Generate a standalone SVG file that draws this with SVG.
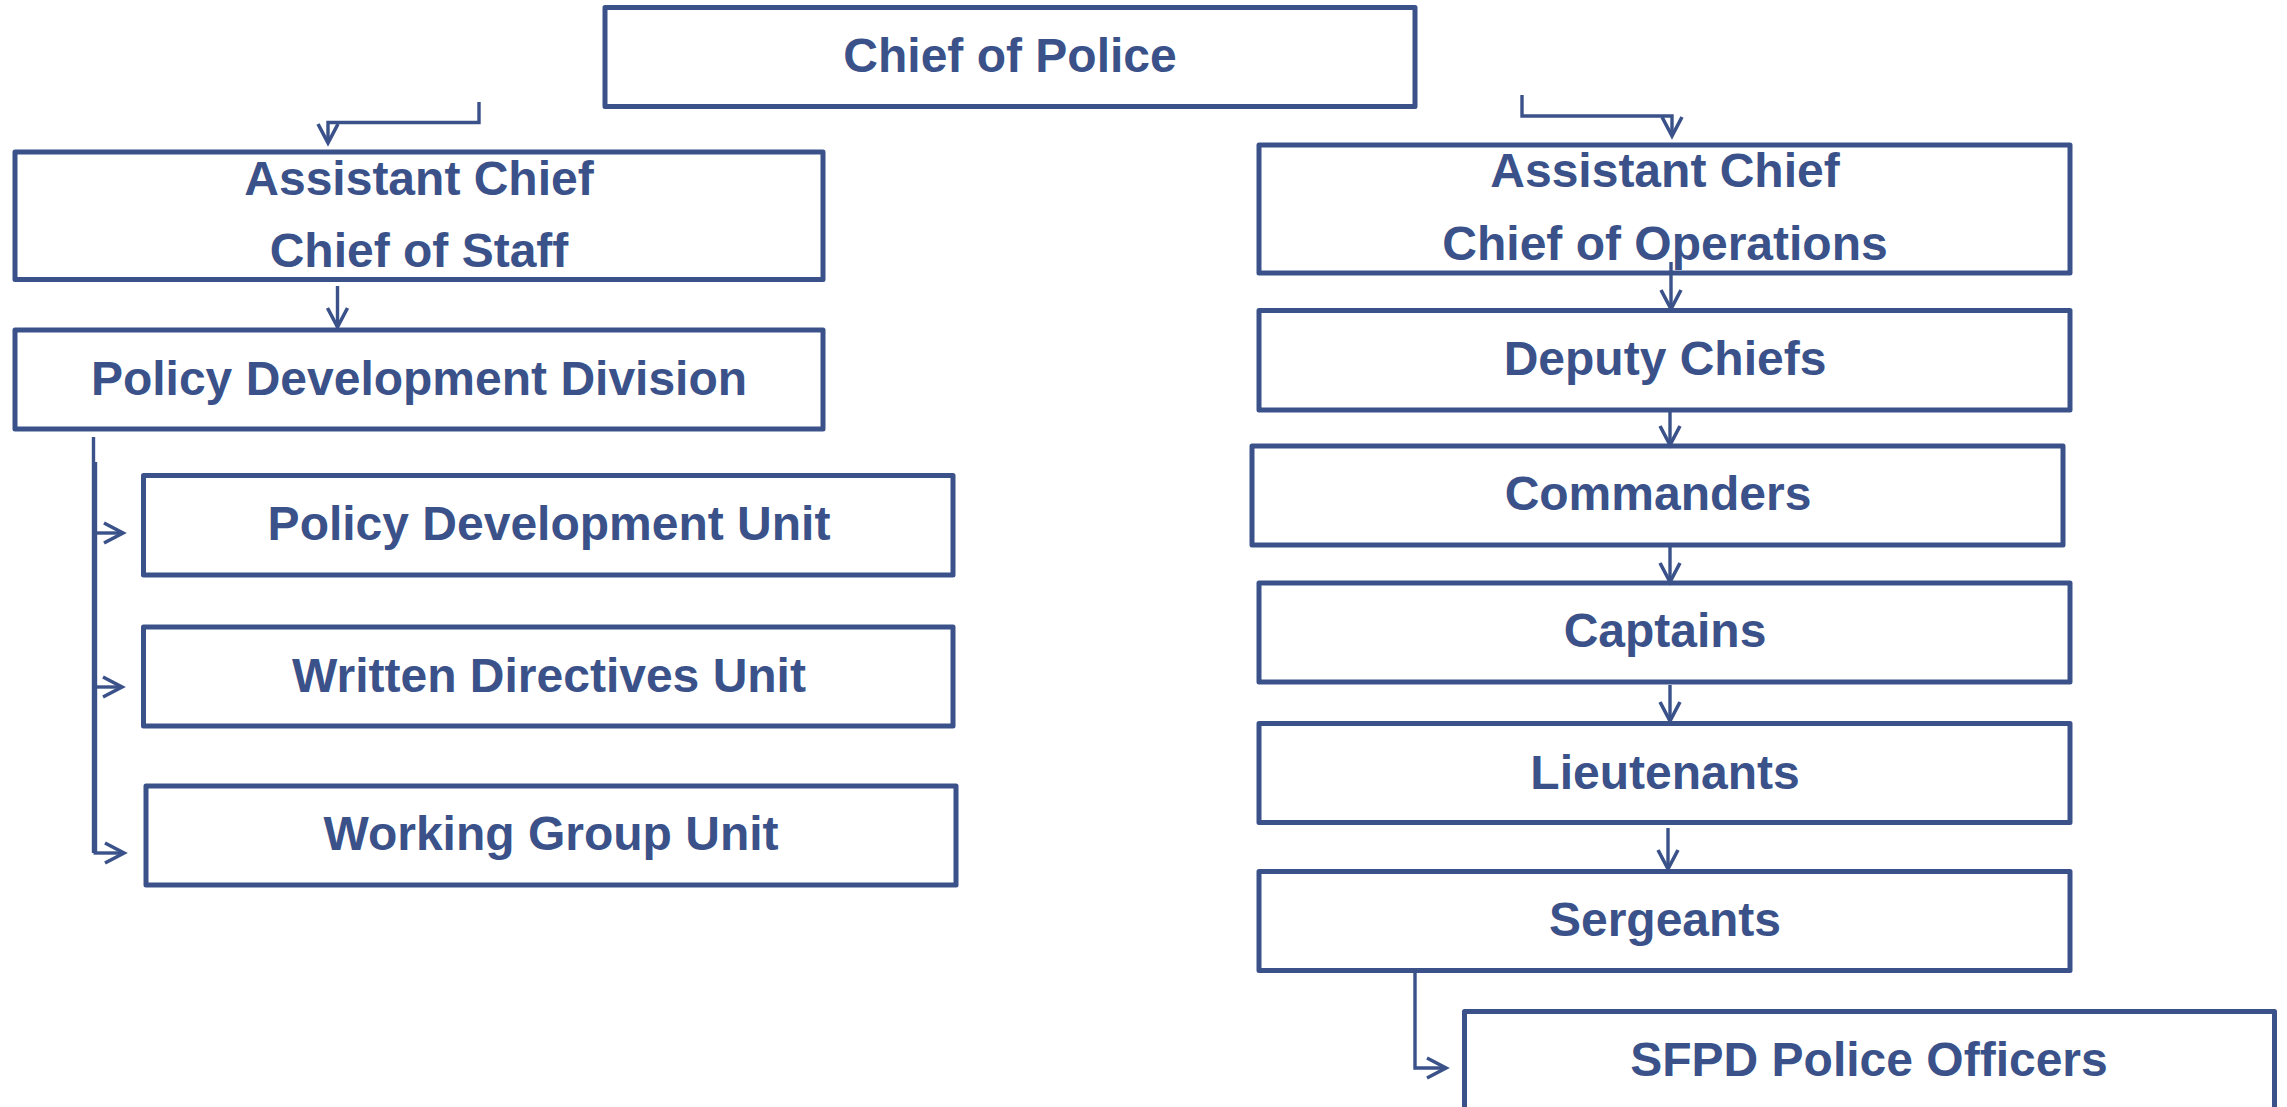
<svg xmlns="http://www.w3.org/2000/svg" width="2287" height="1107" viewBox="0 0 2287 1107">
<style>
.box{fill:#fff;stroke:#3A5289;stroke-width:5;stroke-linejoin:round}
.t{font-family:"Liberation Sans",Arial,sans-serif;font-weight:bold;font-size:48px;fill:#3A5289;text-anchor:middle}
.c{fill:none;stroke:#3A5289;stroke-width:3.4}
</style>
<defs>
<marker id="arr" markerUnits="userSpaceOnUse" markerWidth="30" markerHeight="30" refX="0" refY="0" orient="auto" overflow="visible">
<path d="M-19,-10 L0,0 L-19,10" fill="none" stroke="#3A5289" stroke-width="3.6" stroke-linejoin="miter"/>
</marker>
</defs>
<rect width="2287" height="1107" fill="#fff"/>
<g id="chief"><rect class="box" x="605" y="7.5" width="810" height="99"/><text class="t" x="1010" y="72">Chief of Police</text></g>
<g id="acos"><rect class="box" x="15" y="152" width="808" height="127.5"/><text class="t" x="419" y="195">Assistant Chief</text><text class="t" x="419" y="267">Chief of Staff</text></g>
<g id="pdd"><rect class="box" x="15" y="330" width="808" height="99"/><text class="t" x="419" y="395">Policy Development Division</text></g>
<g id="pdu"><rect class="box" x="143.5" y="475.5" width="809.5" height="99.5"/><text class="t" x="549" y="540">Policy Development Unit</text></g>
<g id="wdu"><rect class="box" x="143.5" y="627" width="809.5" height="99"/><text class="t" x="549" y="692">Written Directives Unit</text></g>
<g id="wgu"><rect class="box" x="146" y="786" width="810" height="99"/><text class="t" x="551" y="850">Working Group Unit</text></g>
<g id="acoo"><rect class="box" x="1259" y="145" width="811" height="128"/><text class="t" x="1665" y="187">Assistant Chief</text><text class="t" x="1665" y="260">Chief of Operations</text></g>
<g id="deputy"><rect class="box" x="1259" y="310.5" width="811" height="99.5"/><text class="t" x="1665" y="375">Deputy Chiefs</text></g>
<g id="commanders"><rect class="box" x="1252" y="446" width="811" height="99"/><text class="t" x="1658" y="510">Commanders</text></g>
<g id="captains"><rect class="box" x="1259" y="583" width="811" height="99"/><text class="t" x="1665" y="647">Captains</text></g>
<g id="lieutenants"><rect class="box" x="1259" y="723.5" width="811" height="99"/><text class="t" x="1665" y="789">Lieutenants</text></g>
<g id="sergeants"><rect class="box" x="1259" y="871.5" width="811" height="99"/><text class="t" x="1665" y="936">Sergeants</text></g>
<g id="sfpd"><rect class="box" x="1464.5" y="1011.5" width="810" height="130"/><text class="t" x="1869" y="1076">SFPD Police Officers</text></g>
<g id="connectors">
<path class="c" d="M479 102 V122.5 H328 V143" marker-end="url(#arr)"/>
<path class="c" d="M1522 95 V116 H1672 V136" marker-end="url(#arr)"/>
<path class="c" d="M337.5 286 V327" marker-end="url(#arr)"/>
<path class="c" d="M93.5 437 V853"/>
<path class="c" d="M95.5 462 V853"/>
<path class="c" d="M93.5 533 H123" marker-end="url(#arr)"/>
<path class="c" d="M93.5 687 H122" marker-end="url(#arr)"/>
<path class="c" d="M93.5 853 H124" marker-end="url(#arr)"/>
<path class="c" d="M1671 262 V309" marker-end="url(#arr)"/>
<path class="c" d="M1670 410 V445" marker-end="url(#arr)"/>
<path class="c" d="M1670 545 V582" marker-end="url(#arr)"/>
<path class="c" d="M1670 685 V721" marker-end="url(#arr)"/>
<path class="c" d="M1668 828 V869" marker-end="url(#arr)"/>
<path class="c" d="M1415 972 V1068 H1446" marker-end="url(#arr)"/>
</g>
</svg>
